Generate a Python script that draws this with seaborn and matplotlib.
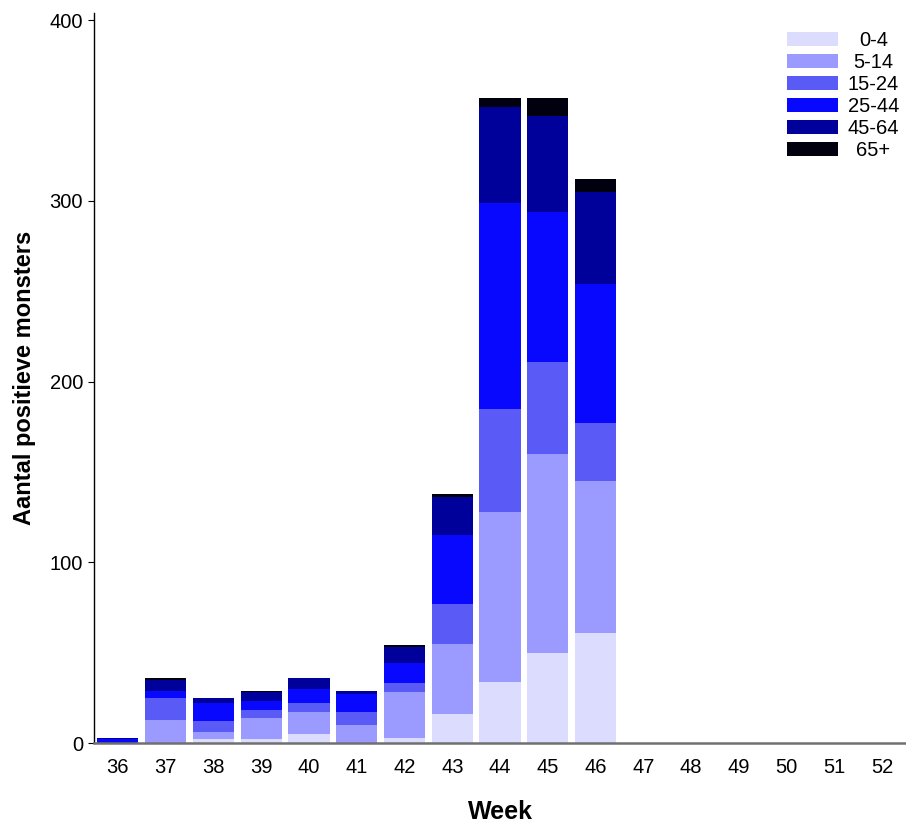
# Positieve monsters per week, gestapeld per leeftijdsgroep

import numpy as np
import pandas as pd
import matplotlib

matplotlib.use("Agg")
import matplotlib.pyplot as plt
import matplotlib.transforms as mtransforms
from matplotlib.patches import Patch
import seaborn as sns

weken = list(range(36, 53))
leeftijden = ["0-4", "5-14", "15-24", "25-44", "45-64", "65+"]

# aantallen per leeftijdsgroep, week 36 t/m 52
n_0_4 = [0, 0, 2, 2, 5, 0, 3, 16, 34, 50, 61, 0, 0, 0, 0, 0, 0]
n_5_14 = [0, 13, 4, 12, 12, 10, 25, 39, 94, 110, 84, 0, 0, 0, 0, 0, 0]
n_15_24 = [0, 12, 6, 4, 5, 7, 5, 22, 57, 51, 32, 0, 0, 0, 0, 0, 0]
n_25_44 = [2, 4, 10, 5, 8, 10, 11, 38, 114, 83, 77, 0, 0, 0, 0, 0, 0]
n_45_64 = [1, 6, 3, 5, 6, 2, 9, 21, 53, 53, 51, 0, 0, 0, 0, 0, 0]
n_65 = [0, 1, 0, 1, 0, 0, 1, 2, 5, 10, 7, 0, 0, 0, 0, 0, 0]

kleuren = ["#dcdcfe", "#9b9bff", "#5a5af6", "#0808ff", "#00009b", "#00000f"]

aantallen = [n_0_4, n_5_14, n_15_24, n_25_44, n_45_64, n_65]
df = pd.DataFrame(
    [
        {"week": w, "leeftijd": lft, "aantal": a}
        for lft, reeks in zip(leeftijden, aantallen)
        for w, a in zip(weken, reeks)
    ]
)

sns.set_style("white")
plt.rcParams["font.family"] = ["Liberation Sans", "DejaVu Sans"]
plt.rcParams["text.color"] = "black"
plt.rcParams["axes.labelcolor"] = "black"

fig = plt.figure(figsize=(9.06, 8.23), dpi=100)
ax = fig.add_axes([0.1038, 0.0972, 0.8962, 0.887])

# seaborn stapelt de eerste hue bovenaan, dus volgorde omdraaien
sns.histplot(
    data=df,
    x="week",
    weights="aantal",
    hue="leeftijd",
    hue_order=leeftijden[::-1],
    palette=dict(zip(leeftijden, kleuren)),
    multiple="stack",
    discrete=True,
    shrink=0.86,
    linewidth=0,
    alpha=1,
    legend=False,
    ax=ax,
)

ax.set_xlim(weken[0] - 0.5, weken[-1] + 0.5)
ax.set_ylim(0, 404)
ax.set_xticks(weken)
ax.set_yticks([0, 100, 200, 300, 400])

sns.despine(ax=ax)
ax.spines["left"].set_color("black")
ax.spines["left"].set_linewidth(1.0)
ax.spines["bottom"].set_color("#707070")
ax.spines["bottom"].set_linewidth(1.8)

ax.tick_params(axis="x", length=0, pad=11, labelsize=14.5, colors="black")
ax.tick_params(axis="y", length=4, width=0.8, pad=4, labelsize=14.5,
               colors="black", left=True)

ax.set_xlabel("Week", fontsize=18, fontweight="bold", labelpad=16)
ax.set_ylabel("Aantal positieve monsters", fontsize=17, fontweight="bold",
              labelpad=10)

handles = [Patch(facecolor=k, edgecolor="none") for k in kleuren]
leg = ax.legend(
    handles,
    leeftijden,
    loc="upper right",
    bbox_to_anchor=(1.014, 1.0),
    frameon=False,
    fontsize=14.5,
    handlelength=2.5,
    handleheight=0.65,
    handletextpad=0.5,
    labelspacing=0.15,
    borderaxespad=0.5,
)

# labels in de legenda centreren
fig.canvas.draw()
breedtes = [t.get_window_extent().width for t in leg.get_texts()]
for t, b in zip(leg.get_texts(), breedtes):
    dx = (max(breedtes) - b) / 2
    t.set_transform(t.get_transform() + mtransforms.Affine2D().translate(dx, 0))

fig.savefig("out.png", dpi=100)
